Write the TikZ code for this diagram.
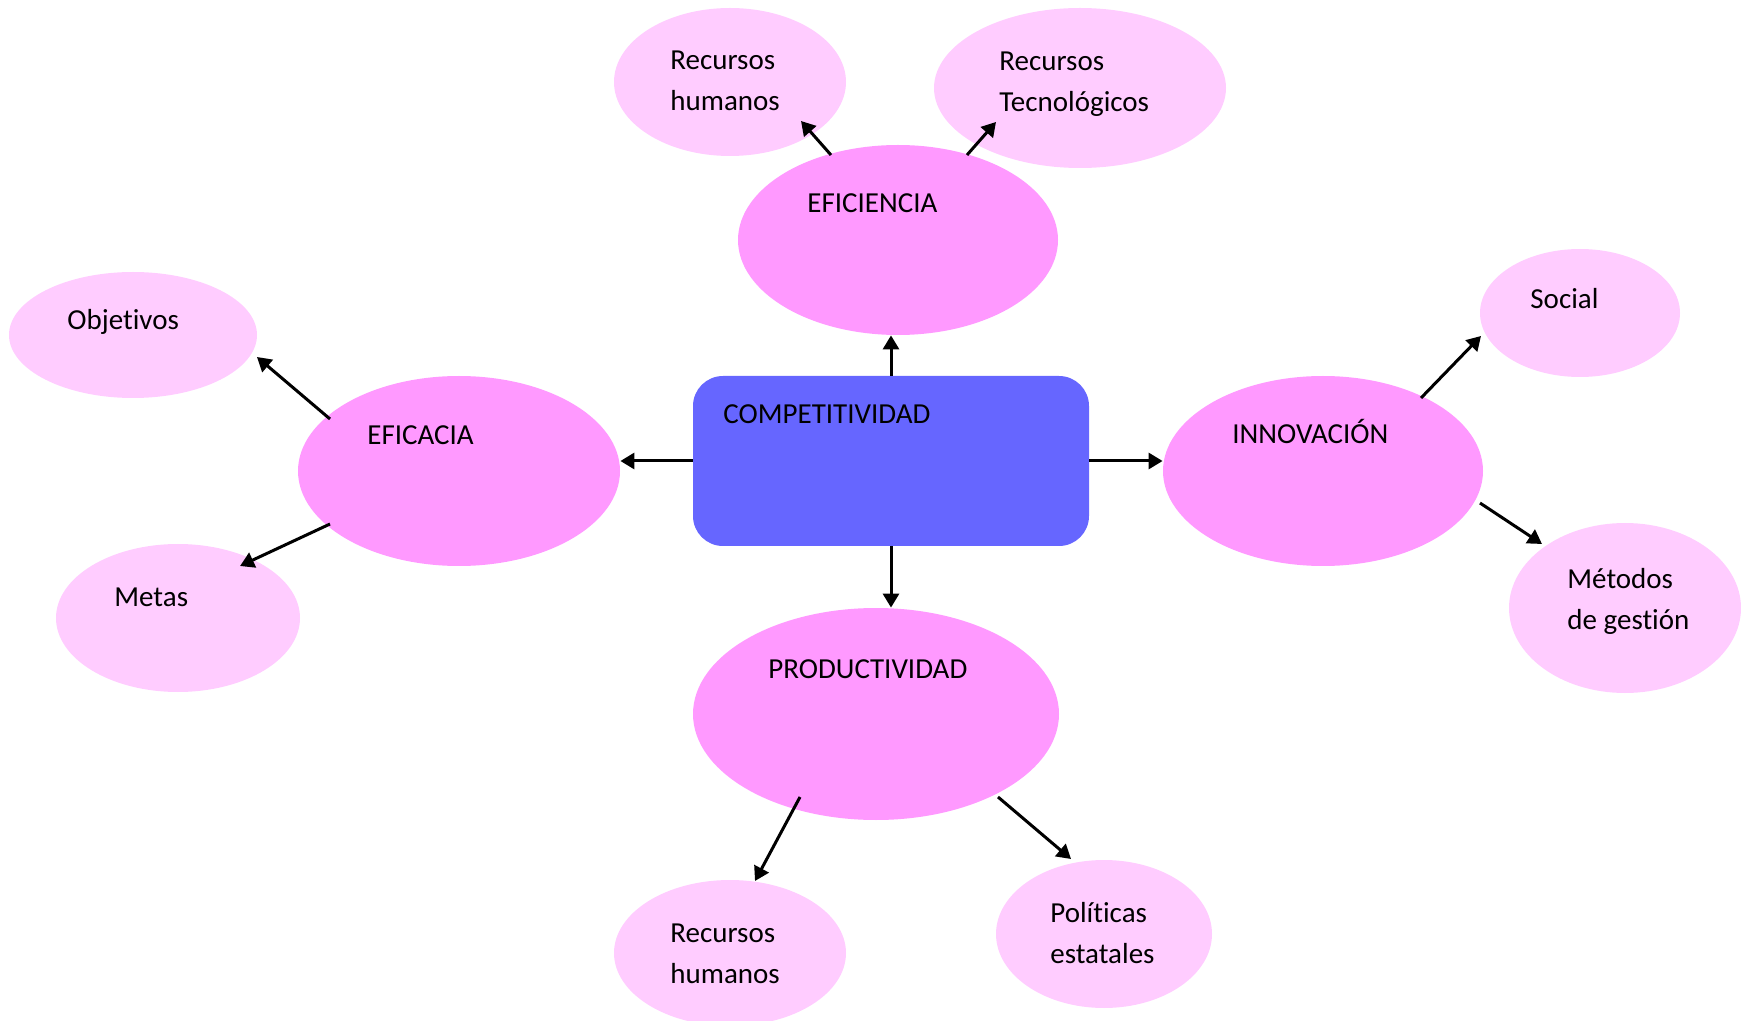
\documentclass[tikz,border=0pt]{standalone}
\usepackage{fontspec}
\setmainfont{Carlito}[Ligatures=NoCommon]
\usetikzlibrary{shapes.geometric,arrows.meta,calc}
\definecolor{mainpink}{HTML}{FF99FF}
\definecolor{lightpink}{HTML}{FFCCFF}
\definecolor{compblue}{HTML}{6666FF}
\tikzset{
  bigell/.style={ellipse, fill=mainpink, draw=none, inner sep=0pt},
  smallell/.style={ellipse, fill=lightpink, draw=none, inner sep=0pt},
  lbl/.style={anchor=base west, inner sep=0pt, align=left, font=\fontsize{14.5}{20.5}\selectfont},
  arr/.style={-{Triangle[length=7pt,width=8pt]}, line width=1.5pt, black}
}
\begin{document}
\begin{tikzpicture}[x=0.5pt,y=-0.5pt]
\useasboundingbox (0,0) rectangle (1741,1021);
% shapes
\node[smallell, minimum width=116pt, minimum height=74pt] (rh1) at (730,82) {};
\node[smallell, minimum width=146pt, minimum height=80pt] (rt) at (1080,88) {};
\node[bigell, minimum width=160pt, minimum height=95pt] (efic) at (898,240) {};
\node[smallell, minimum width=124pt, minimum height=63pt] (obj) at (133,335) {};
\node[bigell, minimum width=161pt, minimum height=95pt] (efca) at (459,471) {};
\node[smallell, minimum width=122pt, minimum height=74pt] (metas) at (178,618) {};
\node[rectangle, rounded corners=15pt, fill=compblue, minimum width=198pt, minimum height=85pt, inner sep=0pt] (comp) at (891,461) {};
\node[bigell, minimum width=160pt, minimum height=95pt] (innov) at (1323,471) {};
\node[smallell, minimum width=100pt, minimum height=64pt] (social) at (1580,313) {};
\node[smallell, minimum width=116pt, minimum height=85pt] (metodos) at (1625,608) {};
\node[bigell, minimum width=183pt, minimum height=106pt] (prod) at (876,714) {};
\node[smallell, minimum width=116pt, minimum height=73pt] (rh2) at (730,953) {};
\node[smallell, minimum width=108pt, minimum height=74pt] (pol) at (1104,934) {};
% texts (base anchor = baseline of the last line)
\node[lbl] (trh1) at (670,111) {Recursos\\humanos};
\node[lbl] (trt) at (999,112) {Recursos\\Tecnológicos};
\node[lbl] (tefic) at (807,213) {EFICIENCIA};
\node[lbl] (tobj) at (67,330) {Objetivos};
\node[lbl] (tefca) at (367,445) {EFICACIA};
\node[lbl] (tcomp) at (723,424) {COMPETITIVIDAD};
\node[lbl] (tinnov) at (1232,444) {INNOVACIÓN};
\node[lbl] (tsocial) at (1530,309) {Social};
\node[lbl] (tmet) at (1567,629) {Métodos\\de gestión};
\node[lbl] (tmetas) at (114,606) {Metas};
\node[lbl] (tprod) at (768,678) {PRODUCTIVIDAD};
\node[lbl] (trh2) at (670,983) {Recursos\\humanos};
\node[lbl] (tpol) at (1050,963) {Políticas\\estatales};
% connectors
\draw[arr] (comp.north) -- (comp.north |- efic.south);
\draw[arr] (comp.west) -- (comp.west -| efca.east);
\draw[arr] (comp.east) -- (comp.east -| innov.west);
\draw[arr] (comp.south) -- (comp.south |- prod.north);
\draw[arr] ($(efic)+(-67,-85)$) -- ($(rh1)+(71,39)$);
\draw[arr] ($(efic)+(69,-85)$) -- ($(rt)+(-84,34)$);
\draw[arr] ($(efca)+(-129,-52)$) -- ($(obj)+(124,22)$);
\draw[arr] ($(efca)+(-129,53)$) -- ($(metas)+(62,-52)$);
\draw[arr] ($(innov)+(98,-73)$) -- ($(social)+(-99,23)$);
\draw[arr] ($(innov)+(157,32)$) -- ($(metodos)+(-83,-64)$);
\draw[arr] ($(prod)+(-76,83)$) -- ($(rh2)+(25,-72)$);
\draw[arr] ($(prod)+(122,83)$) -- ($(pol)+(-33,-75)$);
\end{tikzpicture}
\end{document}
